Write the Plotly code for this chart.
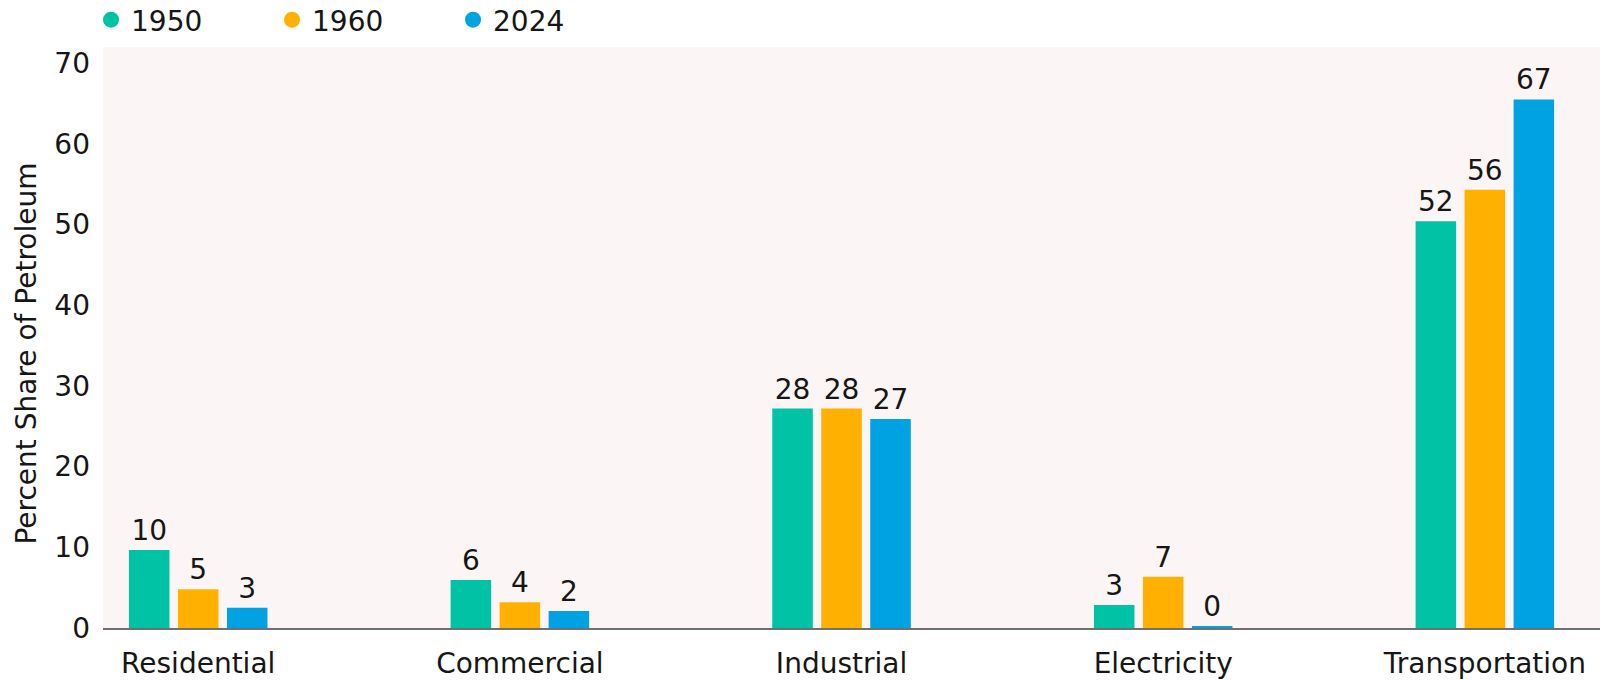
import plotly.graph_objects as go

categories = ["Residential", "Commercial", "Industrial", "Electricity", "Transportation"]
years = ["1950", "1960", "2024"]
share_1950 = [9.67, 5.95, 27.2, 2.85, 50.4]
share_1960 = [4.8, 3.2, 27.2, 6.36, 54.3]
share_2024 = [2.52, 2.11, 25.9, 0.2, 65.5]
labels_1950 = ["10", "6", "28", "3", "52"]
labels_1960 = ["5", "4", "28", "7", "56"]
labels_2024 = ["3", "2", "27", "0", "67"]
y_ticks = [0, 10, 20, 30, 40, 50, 60, 70]
y_title = "Percent Share of Petroleum"

colors = ["#00C2A5", "#FFB000", "#00A2E2"]
FONT = "DejaVu Sans"
INK = "#161616"

fig = go.Figure()
series = [share_1950, share_1960, share_2024]
labels = [labels_1950, labels_1960, labels_2024]
for name, vals, txt, col in zip(years, series, labels, colors):
    fig.add_trace(go.Bar(
        x=categories, y=vals, name=name, marker=dict(color=col, line=dict(width=0)),
        text=txt, textposition="outside", cliponaxis=False,
        textfont=dict(family=FONT, size=28, color=INK),
        showlegend=False,
    ))
    fig.add_trace(go.Scatter(
        x=[None], y=[None], mode="markers", name=name,
        marker=dict(symbol="circle", size=23, color=col),
    ))

fig.update_layout(
    width=1600, height=680,
    margin=dict(l=103, r=0, t=47, b=52, autoexpand=False),
    paper_bgcolor="white",
    plot_bgcolor="#FCF5F5",
    barmode="group",
    bargap=0.543,
    bargroupgap=0.173,
    font=dict(family=FONT, size=28, color=INK),
    showlegend=True,
    legend=dict(
        orientation="h", x=-0.008, y=1.0465, xanchor="left", yanchor="middle",
        font=dict(family=FONT, size=28, color=INK),
        entrywidth=136, entrywidthmode="pixels",
        itemsizing="trace", bgcolor="rgba(0,0,0,0)",
    ),
    annotations=[dict(
        text=y_title, textangle=-90, showarrow=False,
        xref="paper", yref="paper", x=-0.0514, y=0.4725,
        xanchor="center", yanchor="middle",
        font=dict(family=FONT, size=28, color=INK),
    )],
)
fig.update_xaxes(
    type="category", range=[-0.296, 4.358],
    showline=True, linecolor="#707070", linewidth=1.5,
    showgrid=False, ticks="", zeroline=False, ticklabelstandoff=10,
    tickfont=dict(family=FONT, size=28, color=INK),
)
fig.update_yaxes(
    range=[0, 72.0], tickvals=y_ticks, showgrid=False, zeroline=False,
    showline=False, ticks="", ticklabelstandoff=12,
    tickfont=dict(family=FONT, size=28, color=INK),
)

# remove the default 8px page margin so the figure fills the window exactly
fig.write_html(
    "out.html",
    config={"displayModeBar": False},
    post_script="document.body.style.margin='0px';",
)
